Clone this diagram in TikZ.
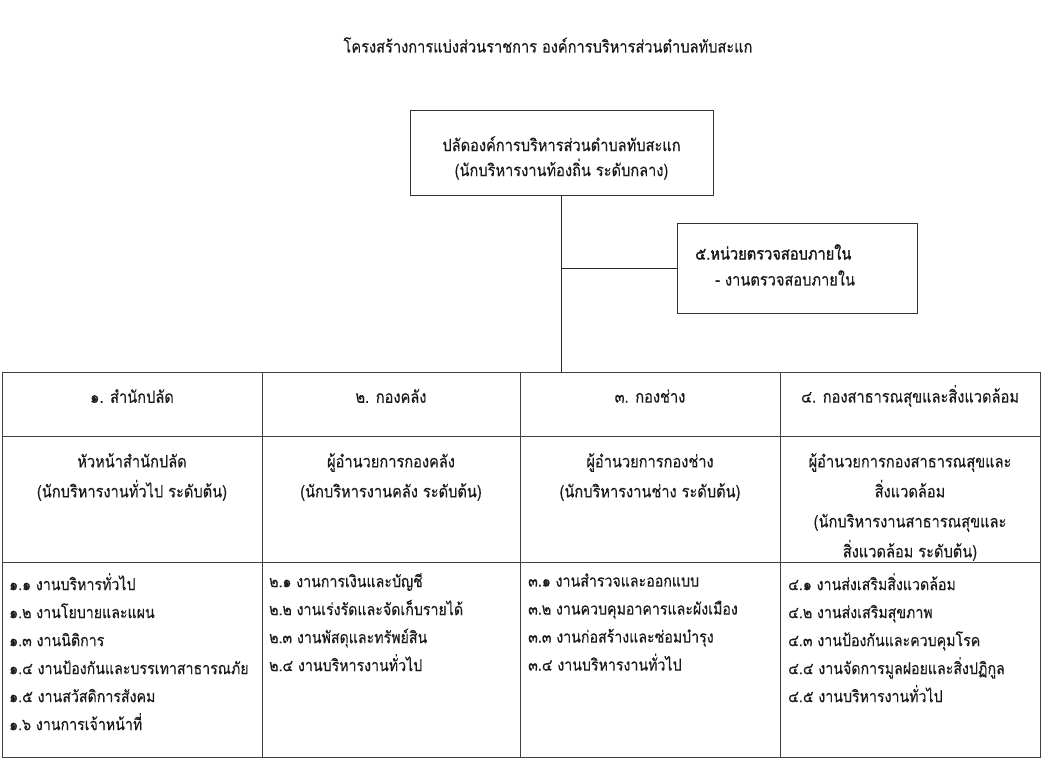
\documentclass[tikz,border=0pt]{standalone}
\usepackage{fontspec}
\newfontfamily\thaifont[Script=Thai, FakeStretch=0.86, FakeBold=0.25]{Loma}
\newfontfamily\thaibold[Script=Thai, FakeStretch=0.86, FakeBold=1.4]{Loma}
\begin{document}
\begin{tikzpicture}[x=1pt,y=-1pt,
  every node/.style={font=\thaifont\fontsize{17}{18}\selectfont, text=black!90, inner sep=0pt},
  box/.style={draw=black!80, line width=0.9pt},
  cellbox/.style={draw=black!75, line width=0.9pt, anchor=north west},
  wire/.style={draw=black!85, line width=0.9pt},
  midtext/.style={align=center, anchor=north, font=\thaifont\fontsize{17}{30}\selectfont},
  listtext/.style={align=left, anchor=north west, font=\thaifont\fontsize{16.5}{28}\selectfont}]
\useasboundingbox (0,0) rectangle (1041,765);
\fill[white] (0,0) rectangle (1041,765);

% title
\node (title) at (548,45) {โครงสร้างการแบ่งส่วนราชการ องค์การบริหารส่วนตำบลทับสะแก};

% top box
\node[box, minimum width=303pt, minimum height=85pt] (top) at (561.5,152.5) {};
\node[align=center, font=\thaifont\fontsize{17}{25}\selectfont] (toptext) at (561.5,158) {ปลัดองค์การบริหารส่วนตำบลทับสะแก\\(นักบริหารงานท้องถิ่น ระดับกลาง)};

% box 5
\node[box, minimum width=240pt, minimum height=90pt] (audit) at (797,268) {};
\node[anchor=west, font=\thaibold\fontsize{17}{18}\selectfont] (audit1) at (695,252) {๕.หน่วยตรวจสอบภายใน};
\node[anchor=west] (audit2) at (715,278) {- งานตรวจสอบภายใน};

% table cells
\node[cellbox, minimum width=260pt, minimum height=64pt] (h1) at (2,372) {};
\node[cellbox, minimum width=258pt, minimum height=64pt] (h2) at (262,372) {};
\node[cellbox, minimum width=260pt, minimum height=64pt] (h3) at (520,372) {};
\node[cellbox, minimum width=260pt, minimum height=64pt] (h4) at (780,372) {};
\node[cellbox, minimum width=260pt, minimum height=126pt] (m1) at (2,436) {};
\node[cellbox, minimum width=258pt, minimum height=126pt] (m2) at (262,436) {};
\node[cellbox, minimum width=260pt, minimum height=126pt] (m3) at (520,436) {};
\node[cellbox, minimum width=260pt, minimum height=126pt] (m4) at (780,436) {};
\node[cellbox, minimum width=260pt, minimum height=195pt] (b1) at (2,562) {};
\node[cellbox, minimum width=258pt, minimum height=195pt] (b2) at (262,562) {};
\node[cellbox, minimum width=260pt, minimum height=195pt] (b3) at (520,562) {};
\node[cellbox, minimum width=260pt, minimum height=195pt] (b4) at (780,562) {};

% connectors
\coordinate (tabtop) at (top.south |- h3.north);
\draw[wire] (top.south) -- (tabtop);
\draw[wire] (audit.west) -- (audit.west -| top.south);

% header texts
\node (ht1) at (132,396) {๑. สำนักปลัด};
\node (ht2) at (391,396) {๒. กองคลัง};
\node (ht3) at (650,396) {๓. กองช่าง};
\node (ht4) at (910,396) {๔. กองสาธารณสุขและสิ่งแวดล้อม};

% middle texts
\node[midtext] (mt1) at (132,453) {หัวหน้าสำนักปลัด\\(นักบริหารงานทั่วไป ระดับต้น)};
\node[midtext] (mt2) at (391,453) {ผู้อำนวยการกองคลัง\\(นักบริหารงานคลัง ระดับต้น)};
\node[midtext] (mt3) at (650,453) {ผู้อำนวยการกองช่าง\\(นักบริหารงานช่าง ระดับต้น)};
\node[midtext] (mt4) at (910,453) {ผู้อำนวยการกองสาธารณสุขและ\\สิ่งแวดล้อม\\(นักบริหารงานสาธารณสุขและ\\สิ่งแวดล้อม ระดับต้น)};

% lists
\node[listtext] (lt1) at (9,573) {๑.๑ งานบริหารทั่วไป\\๑.๒ งานโยบายและแผน\\๑.๓ งานนิติการ\\๑.๔ งานป้องกันและบรรเทาสาธารณภัย\\๑.๕ งานสวัสดิการสังคม\\๑.๖ งานการเจ้าหน้าที่};
\node[listtext] (lt2) at (269,573) {๒.๑ งานการเงินและบัญชี\\๒.๒ งานเร่งรัดและจัดเก็บรายได้\\๒.๓ งานพัสดุและทรัพย์สิน\\๒.๔ งานบริหารงานทั่วไป};
\node[listtext] (lt3) at (528,573) {๓.๑ งานสำรวจและออกแบบ\\๓.๒ งานควบคุมอาคารและผังเมือง\\๓.๓ งานก่อสร้างและซ่อมบำรุง\\๓.๔ งานบริหารงานทั่วไป};
\node[listtext] (lt4) at (788,573) {๔.๑ งานส่งเสริมสิ่งแวดล้อม\\๔.๒ งานส่งเสริมสุขภาพ\\๔.๓ งานป้องกันและควบคุมโรค\\๔.๔ งานจัดการมูลฝอยและสิ่งปฏิกูล\\๔.๕ งานบริหารงานทั่วไป};
\end{tikzpicture}
\end{document}
